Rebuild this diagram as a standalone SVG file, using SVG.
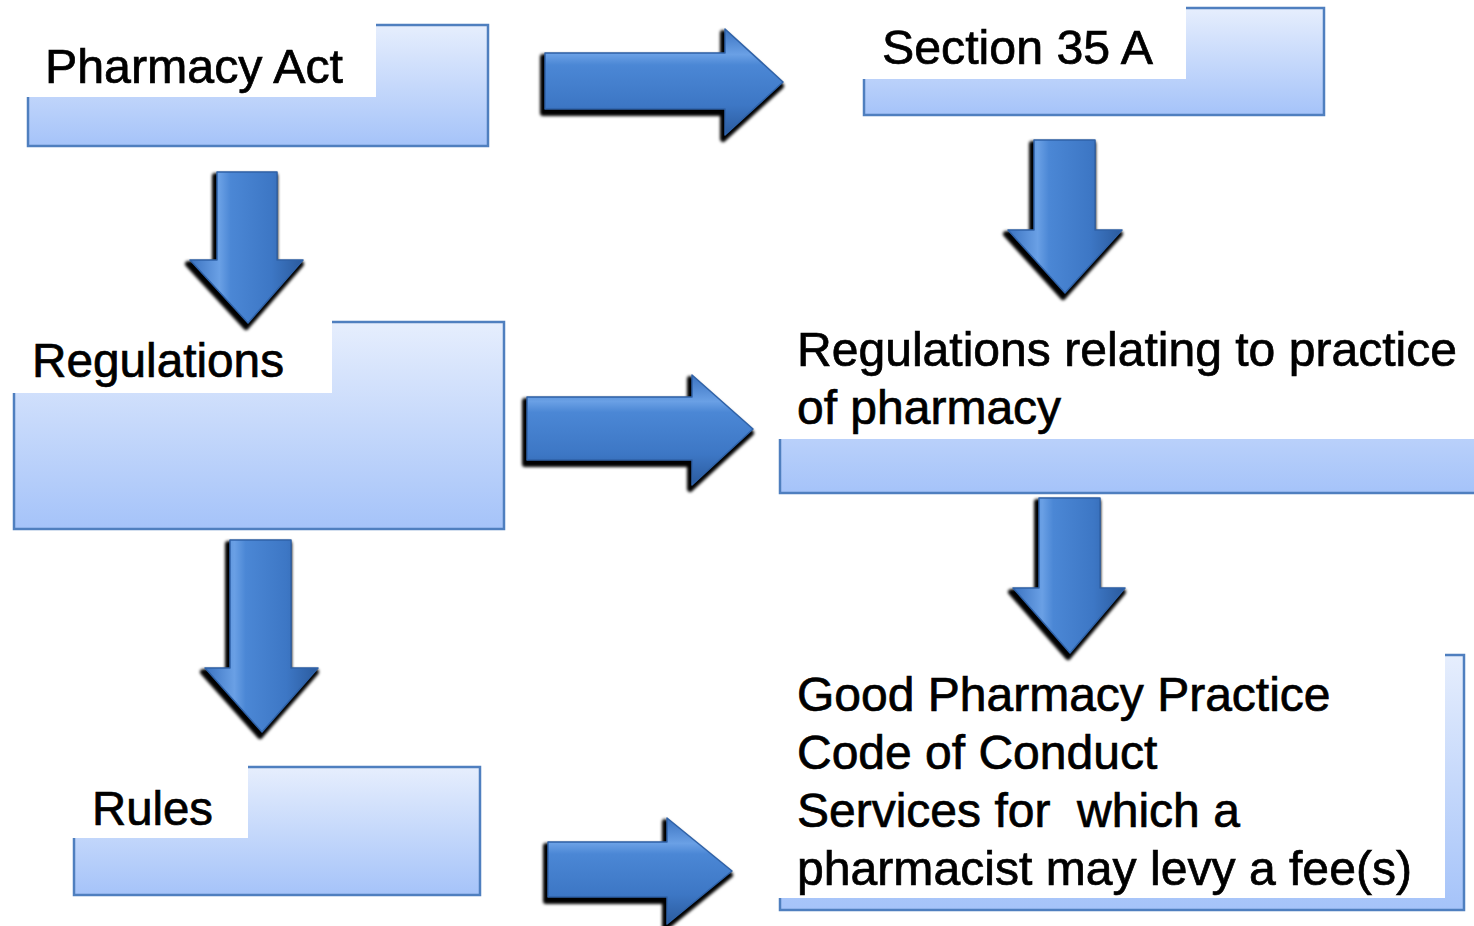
<svg xmlns="http://www.w3.org/2000/svg" width="1474" height="926" viewBox="0 0 1474 926">
<defs>
<linearGradient id="boxg" x1="0" y1="0" x2="0" y2="1">
<stop offset="0" stop-color="#e6eefd"/>
<stop offset="1" stop-color="#a5c3f9"/>
</linearGradient>
<linearGradient id="ar" x1="0" y1="0" x2="0" y2="1">
<stop offset="0" stop-color="#3b73c1"/>
<stop offset="0.24" stop-color="#6aa0e5"/>
<stop offset="0.34" stop-color="#4b87d5"/>
<stop offset="0.72" stop-color="#3d77c5"/>
<stop offset="1" stop-color="#2b5b9e"/>
</linearGradient>
<linearGradient id="ad" x1="0" y1="0" x2="1" y2="0">
<stop offset="0" stop-color="#3b73c1"/>
<stop offset="0.26" stop-color="#6aa0e5"/>
<stop offset="0.36" stop-color="#4b87d5"/>
<stop offset="0.72" stop-color="#3d77c5"/>
<stop offset="1" stop-color="#2b5b9e"/>
</linearGradient>
<filter id="sh" x="-20%" y="-20%" width="140%" height="140%">
<feGaussianBlur stdDeviation="1.6"/>
</filter>
</defs>
<style>
.box{fill:url(#boxg);stroke:#4f7fbf;stroke-width:2.5}
.mask{fill:#ffffff}
.t{font-family:"Liberation Sans",Arial,sans-serif;font-size:48px;fill:#000000;stroke:#000000;stroke-width:0.7}
.shadow{fill:#000000;stroke:#000000;stroke-width:6;stroke-linejoin:round}
.arR{fill:url(#ar);stroke:#2f62a8;stroke-width:1.5;stroke-linejoin:round}
.arD{fill:url(#ad);stroke:#2f62a8;stroke-width:1.5;stroke-linejoin:round}
</style>
<rect width="1474" height="926" fill="#ffffff"/>

<g id="pharmacy-act">
<rect class="box" x="28" y="25" width="460" height="121"/>
<rect class="mask" x="20" y="18" width="356" height="79"/>
<text class="t" x="45" y="83" textLength="298" lengthAdjust="spacingAndGlyphs">Pharmacy Act</text>
</g>

<g id="section-35a">
<rect class="box" x="864" y="8" width="460" height="107"/>
<rect class="mask" x="856" y="2" width="330" height="77"/>
<text class="t" x="882" y="64" textLength="271" lengthAdjust="spacingAndGlyphs">Section 35 A</text>
</g>

<g id="regulations">
<rect class="box" x="14" y="322" width="490" height="207"/>
<rect class="mask" x="6" y="316" width="326" height="77"/>
<text class="t" x="32" y="377" textLength="252" lengthAdjust="spacingAndGlyphs">Regulations</text>
</g>

<g id="regulations-practice">
<rect class="box" x="780" y="320" width="700" height="173"/>
<rect class="mask" x="772" y="312" width="710" height="127"/>
<text class="t" x="797" y="366" textLength="660" lengthAdjust="spacingAndGlyphs">Regulations relating to practice</text>
<text class="t" x="797" y="424">of pharmacy</text>
</g>

<g id="rules">
<rect class="box" x="74" y="767" width="406" height="128"/>
<rect class="mask" x="66" y="760" width="182" height="78"/>
<text class="t" x="92" y="825" textLength="121" lengthAdjust="spacingAndGlyphs">Rules</text>
</g>

<g id="good-pharmacy-practice">
<rect class="box" x="780" y="655" width="684" height="255"/>
<rect class="mask" x="772" y="646" width="673" height="252"/>
<text class="t" x="797" y="711">Good Pharmacy Practice</text>
<text class="t" x="797" y="769">Code of Conduct</text>
<text class="t" x="797" y="827" xml:space="preserve">Services for  which a</text>
<text class="t" x="797" y="885" textLength="615" lengthAdjust="spacingAndGlyphs">pharmacist may levy a fee(s)</text>
</g>

<g id="connectors">
<g filter="url(#sh)" transform="translate(-2,4)">
<path class="shadow" d="M545,53 H725 V29 L783,82 L725,135 V109 H545 Z"/>
<path class="shadow" d="M527,397 H692 V375 L753,429 L692,485 V460 H527 Z"/>
<path class="shadow" d="M548,842 H667 V818 L732,871 L667,924 V897 H548 Z"/>
<path class="shadow" d="M217,172 H277 V260 H303 L248,323 L190,260 H217 Z"/>
<path class="shadow" d="M1034,140 H1095 V230 H1122 L1065,293 L1008,230 H1034 Z"/>
<path class="shadow" d="M230,540 H291 V668 H318 L262,732 L205,668 H230 Z"/>
<path class="shadow" d="M1039,498 H1100 V588 H1125 L1070,653 L1013,588 H1039 Z"/>
</g>
<path class="arR" d="M545,53 H725 V29 L783,82 L725,135 V109 H545 Z"/>
<path class="arR" d="M527,397 H692 V375 L753,429 L692,485 V460 H527 Z"/>
<path class="arR" d="M548,842 H667 V818 L732,871 L667,924 V897 H548 Z"/>
<path class="arD" d="M217,172 H277 V260 H303 L248,323 L190,260 H217 Z"/>
<path class="arD" d="M1034,140 H1095 V230 H1122 L1065,293 L1008,230 H1034 Z"/>
<path class="arD" d="M230,540 H291 V668 H318 L262,732 L205,668 H230 Z"/>
<path class="arD" d="M1039,498 H1100 V588 H1125 L1070,653 L1013,588 H1039 Z"/>
</g>
</svg>
